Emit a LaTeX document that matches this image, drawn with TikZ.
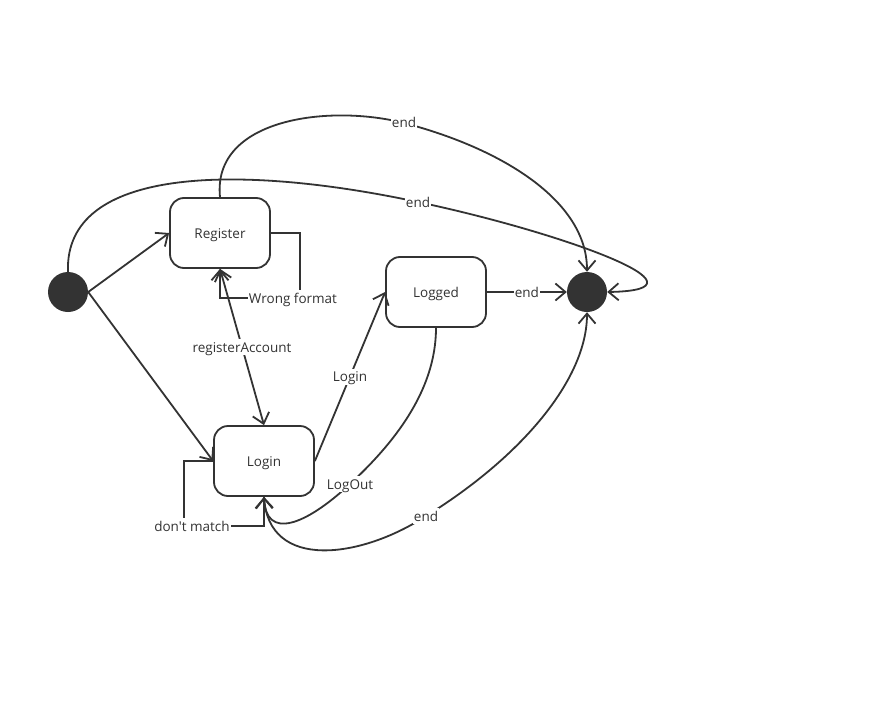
\documentclass[tikz,border=0pt]{standalone}
\usepackage{fontspec}
\setmainfont{Open Sans}[Ligatures=TeXOff]
\usetikzlibrary{arrows.meta}
\definecolor{ink}{HTML}{333333}
\tikzset{
  labelfont/.style={font=\fontsize{13.5}{15}\selectfont, text height=12pt, text depth=2pt},
  statebox/.style={draw=ink, line width=1.8pt, rounded corners=14pt, minimum width=100pt, minimum height=70pt, inner sep=0pt, text=ink, labelfont},
  pseudo/.style={circle, fill=ink, draw=none, minimum size=40pt, inner sep=0pt},
  trans/.style={draw=ink, line width=1.8pt, -{Straight Barb[length=10pt,width=17pt]}},
  twoway/.style={draw=ink, line width=1.8pt, {Straight Barb[length=10pt,width=17pt]}-{Straight Barb[length=10pt,width=17pt]}},
  tlabel/.style={fill=white, text=ink, inner sep=1pt, labelfont}
}
\begin{document}
\begin{tikzpicture}[x=1pt,y=-1pt]
\path[use as bounding box, fill=white] (0,0) rectangle (885,706);

% states
\node[pseudo] (init) at (68,292) {};
\node[pseudo] (final) at (587,292) {};
\node[statebox] (register) at (220,233) {Register};
\node[statebox] (logged) at (436,292) {Logged};
\node[statebox] (login) at (264,461) {Login};

% transitions out of the initial state
\draw[trans] (init.east) -- (register.west);
\draw[trans] (init.east) -- (login.west);
\draw[trans] (init.north) .. controls (64,166) and (240,164) .. (418,202)
  node[tlabel] {end}
  .. controls (560,232) and (722,290) .. (final.east);

% Register
\draw[trans] (register.north) .. controls (212,118) and (330,104) .. (404,123)
  node[tlabel] {end}
  .. controls (500,148) and (587,200) .. (final.north);
\draw[trans] (register.east) -| (300,298) node[tlabel, xshift=-7pt] {Wrong format} -| (register.south);
\draw[twoway] (register.south) -- node[tlabel] {registerAccount} (login.north);

% Login
\draw[trans] (login.east) -- node[tlabel] {Login} (logged.west);
\draw[trans] (login.west) -| (184,526) node[tlabel, xshift=8pt] {don't match} -| (login.south);
\draw[trans] (login.south) .. controls (268,572) and (362,558) .. (426,516)
  node[tlabel] {end}
  .. controls (520,458) and (587,380) .. (final.south);

% Logged
\draw[trans] (logged.east) -- node[tlabel] {end} (final.west);
\draw[trans] (logged.south) .. controls (436,392) and (392,445) .. (350,484)
  node[tlabel] {LogOut}
  .. controls (305,526) and (266,540) .. (login.south);
\end{tikzpicture}
\end{document}
